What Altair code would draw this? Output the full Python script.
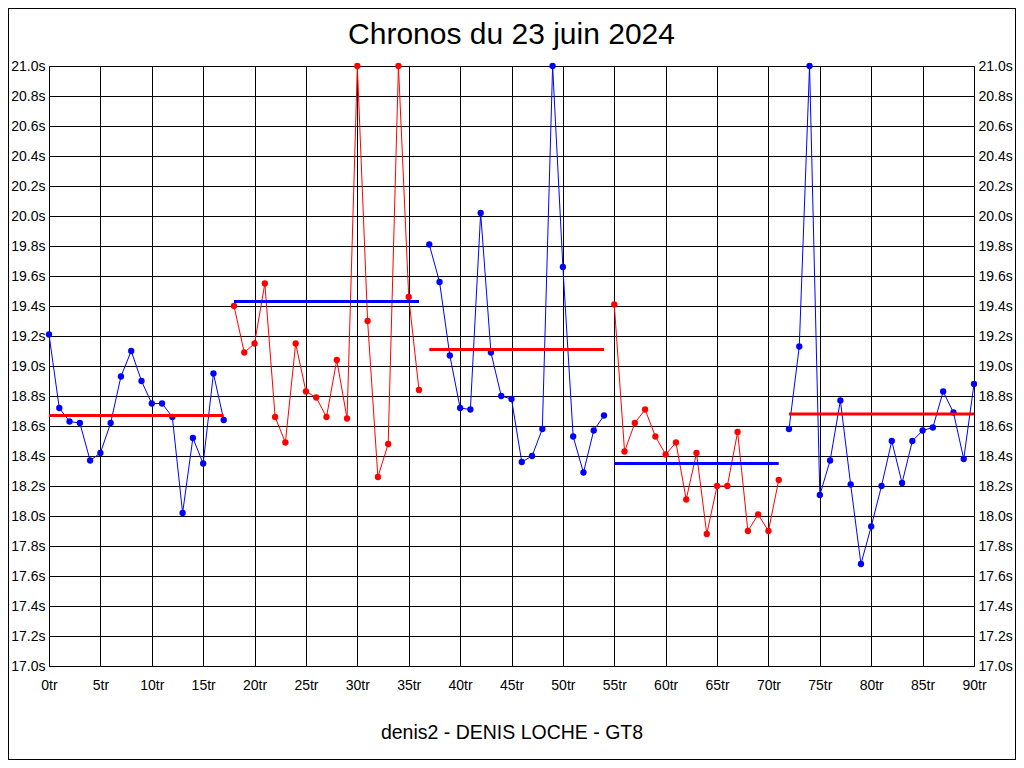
import altair as alt
import pandas as pd

# ---- data ----
tours = list(range(0, 91))
temps = [
    19.21, 18.72, 18.63, 18.62, 18.37, 18.42, 18.62, 18.93, 19.10, 18.90,
    18.75, 18.75, 18.66, 18.02, 18.52, 18.35, 18.95, 18.64,
    19.40, 19.09, 19.15, 19.55, 18.66, 18.49, 19.15, 18.83, 18.79, 18.66,
    19.04, 18.65, 21.00, 19.30, 18.26, 18.48, 21.00, 19.46, 18.84,
    19.81, 19.56, 19.07, 18.72, 18.71, 20.02, 19.09, 18.80, 18.78, 18.36,
    18.40, 18.58, 21.00, 19.66, 18.53, 18.29, 18.57, 18.67,
    19.41, 18.43, 18.62, 18.71, 18.53, 18.41, 18.49, 18.11, 18.42, 17.88,
    18.20, 18.20, 18.56, 17.90, 18.01, 17.90, 18.24,
    18.58, 19.13, 21.00, 18.14, 18.37, 18.77, 18.21, 17.68, 17.93, 18.20,
    18.50, 18.22, 18.50, 18.57, 18.59, 18.83, 18.69, 18.38, 18.88,
]
relais_debut = [0, 18, 37, 55, 72]
relais_fin = [17, 36, 54, 71, 90]
relais_moyenne = [18.67, 19.43, 19.11, 18.35, 18.68]
relais_couleur = ["bleu", "rouge", "bleu", "rouge", "bleu"]
moyenne_couleur = ["rouge", "bleu", "rouge", "bleu", "rouge"]

x_ticks = [0, 5, 10, 15, 20, 25, 30, 35, 40, 45, 50, 55, 60, 65, 70, 75, 80, 85, 90]
y_ticks = [17.0, 17.2, 17.4, 17.6, 17.8, 18.0, 18.2, 18.4, 18.6, 18.8, 19.0,
           19.2, 19.4, 19.6, 19.8, 20.0, 20.2, 20.4, 20.6, 20.8, 21.0]

titre = "Chronos du 23 juin 2024"
pilote = "denis2 - DENIS LOCHE - GT8"

# ---- tables ----
rows = []
for t, v in zip(tours, temps):
    for i, (d, f) in enumerate(zip(relais_debut, relais_fin)):
        if d <= t <= f:
            rows.append({"tour": t, "temps": v, "relais": i + 1,
                         "couleur": relais_couleur[i]})
df = pd.DataFrame(rows)
moy = pd.DataFrame({"debut": relais_debut, "fin": relais_fin,
                    "moyenne": relais_moyenne, "couleur": moyenne_couleur})
titre_df = pd.DataFrame({"texte": [titre]})

FONT = "Liberation Sans"
W, H = 925, 600
PL, PT, PR, PB = 41, 58, 42, 94

xscale = alt.Scale(domain=[0, 90], nice=False, zero=False)
yscale = alt.Scale(domain=[17.0, 21.0], nice=False, zero=False)
cscale = alt.Scale(domain=["bleu", "rouge"], range=["#0000ff", "#ff0000"])

xaxis = alt.Axis(values=x_ticks, labelExpr="datum.value + 'tr'", grid=True,
                 gridColor="black", gridOpacity=1, gridWidth=1, ticks=False,
                 domain=False, labelPadding=12, labelFont=FONT, labelFontSize=14,
                 labelColor="black", title=pilote, titleFont=FONT,
                 titleFontSize=19.5, titleFontWeight="normal", titleColor="black",
                 titlePadding=31, labelFlush=False)
yaxis_l = alt.Axis(values=y_ticks, labelExpr="format(datum.value, '.1f') + 's'",
                   orient="left", grid=True, gridColor="black", gridOpacity=1,
                   gridWidth=1, ticks=False, domain=False, labelPadding=4,
                   labelFont=FONT, labelFontSize=14, labelColor="black",
                   title=None, labelFlush=False)
yaxis_r = alt.Axis(values=y_ticks, labelExpr="format(datum.value, '.1f') + 's'",
                   orient="right", grid=False, ticks=False, domain=False,
                   labelPadding=4, labelFont=FONT, labelFontSize=14,
                   labelColor="black", title=None, labelFlush=False)

X = alt.X("tour:Q", scale=xscale, axis=xaxis)

lines = alt.Chart(df).mark_line(strokeWidth=1).encode(
    x=X,
    y=alt.Y("temps:Q", scale=yscale, axis=yaxis_l),
    color=alt.Color("couleur:N", scale=cscale, legend=None),
    detail="relais:N",
)
points = alt.Chart(df).mark_circle(size=40, opacity=1).encode(
    x=X,
    y=alt.Y("temps:Q", scale=yscale, axis=None),
    color=alt.Color("couleur:N", scale=cscale, legend=None),
)
rules = alt.Chart(moy).mark_rule(strokeWidth=3).encode(
    x=alt.X("debut:Q", scale=xscale, axis=xaxis),
    x2="fin:Q",
    y=alt.Y("moyenne:Q", scale=yscale, axis=yaxis_r),
    color=alt.Color("couleur:N", scale=cscale, legend=None),
)
frame = alt.Chart(moy).mark_rect(fillOpacity=0, stroke="black", strokeWidth=1,
                                 clip=False).encode(
    x=alt.value(-PL + 0.5), x2=alt.value(W + PR - 0.5),
    y=alt.value(-PT + 0.5), y2=alt.value(H + PB - 0.5),
)
title_mark = alt.Chart(titre_df).mark_text(
    font=FONT, fontSize=30, color="black", align="center",
    baseline="alphabetic", clip=False,
).encode(text="texte:N", x=alt.value(W / 2), y=alt.value(-22))

chart = alt.layer(lines, points, rules, frame, title_mark).resolve_axis(
    y="independent"
).properties(
    width=W, height=H,
    padding={"left": PL, "top": PT, "right": PR, "bottom": PB},
    autosize=alt.AutoSizeParams(type="none"),
    background="white",
).configure_view(stroke="black", strokeWidth=1)

chart.save("out.html", embed_options={"renderer": "svg", "actions": False})
